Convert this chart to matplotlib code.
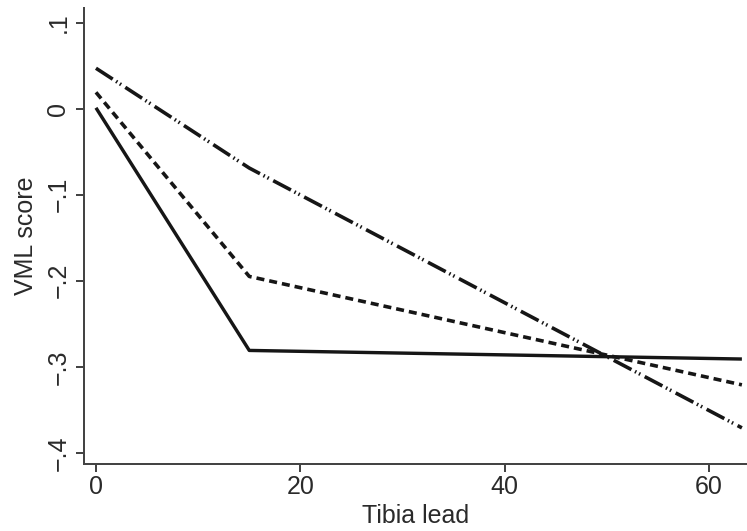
import matplotlib
matplotlib.use("Agg")
import matplotlib.pyplot as plt

plt.rcParams['font.family'] = ['Liberation Sans', 'DejaVu Sans']
plt.rcParams['lines.scale_dashes'] = False

# Data (linear spline with knot at 15)
tibia_lead = [0, 15, 63.2]
series_solid = [0.001, -0.281, -0.291]
series_dashed = [0.019, -0.195, -0.321]
series_dashdot = [0.047, -0.069, -0.371]

xticks = [0, 20, 40, 60]
yticks = [-0.4, -0.3, -0.2, -0.1, 0, 0.1]
yticklabels = ["\u2212.4", "\u2212.3", "\u2212.2", "\u2212.1", "0", ".1"]

px = 72 / 100.0  # points per pixel at dpi 100

fig = plt.figure(figsize=(7.47, 5.31), dpi=100)
# axes: left spine x=84, right 747, bottom 464, top 8
ax = fig.add_axes([84 / 747, 1 - 464 / 531, (747 - 84) / 747, (464 - 8) / 531])

col = '#161616'
ax.plot(tibia_lead, series_solid, color=col, lw=3.4 * px, solid_capstyle='butt')
ax.plot(tibia_lead, series_dashed, color=col, lw=3.6 * px,
        linestyle=(0, (8 * px, 5 * px)), dash_capstyle='butt')
ax.plot(tibia_lead, series_dashdot, color=col, lw=3.6 * px,
        linestyle=(0, (20 * px, 4 * px, 1.5 * px, 3 * px, 1.5 * px, 5 * px)),
        dash_capstyle='butt')

ax.set_xlim(-1.17, 63.7)
ax.set_ylim(-0.413, 0.117)

ax.set_xticks(xticks)
ax.set_yticks(yticks)
ax.set_yticklabels(yticklabels, rotation=90, va='center')

for s in ['top', 'right']:
    ax.spines[s].set_visible(False)
for s in ['left', 'bottom']:
    ax.spines[s].set_color('#444444')
    ax.spines[s].set_linewidth(2 * px)

ax.tick_params(axis='both', direction='out', length=8 * px, width=2 * px,
               color='#444444', labelsize=18, labelcolor='#2a2a2a', pad=2)
ax.tick_params(axis='y', pad=4)

ax.set_xlabel("Tibia lead", fontsize=18, color='#2a2a2a', labelpad=4)
ax.set_ylabel("VML score", fontsize=18, color='#2a2a2a', labelpad=6)

fig.savefig("out.png", dpi=100)
